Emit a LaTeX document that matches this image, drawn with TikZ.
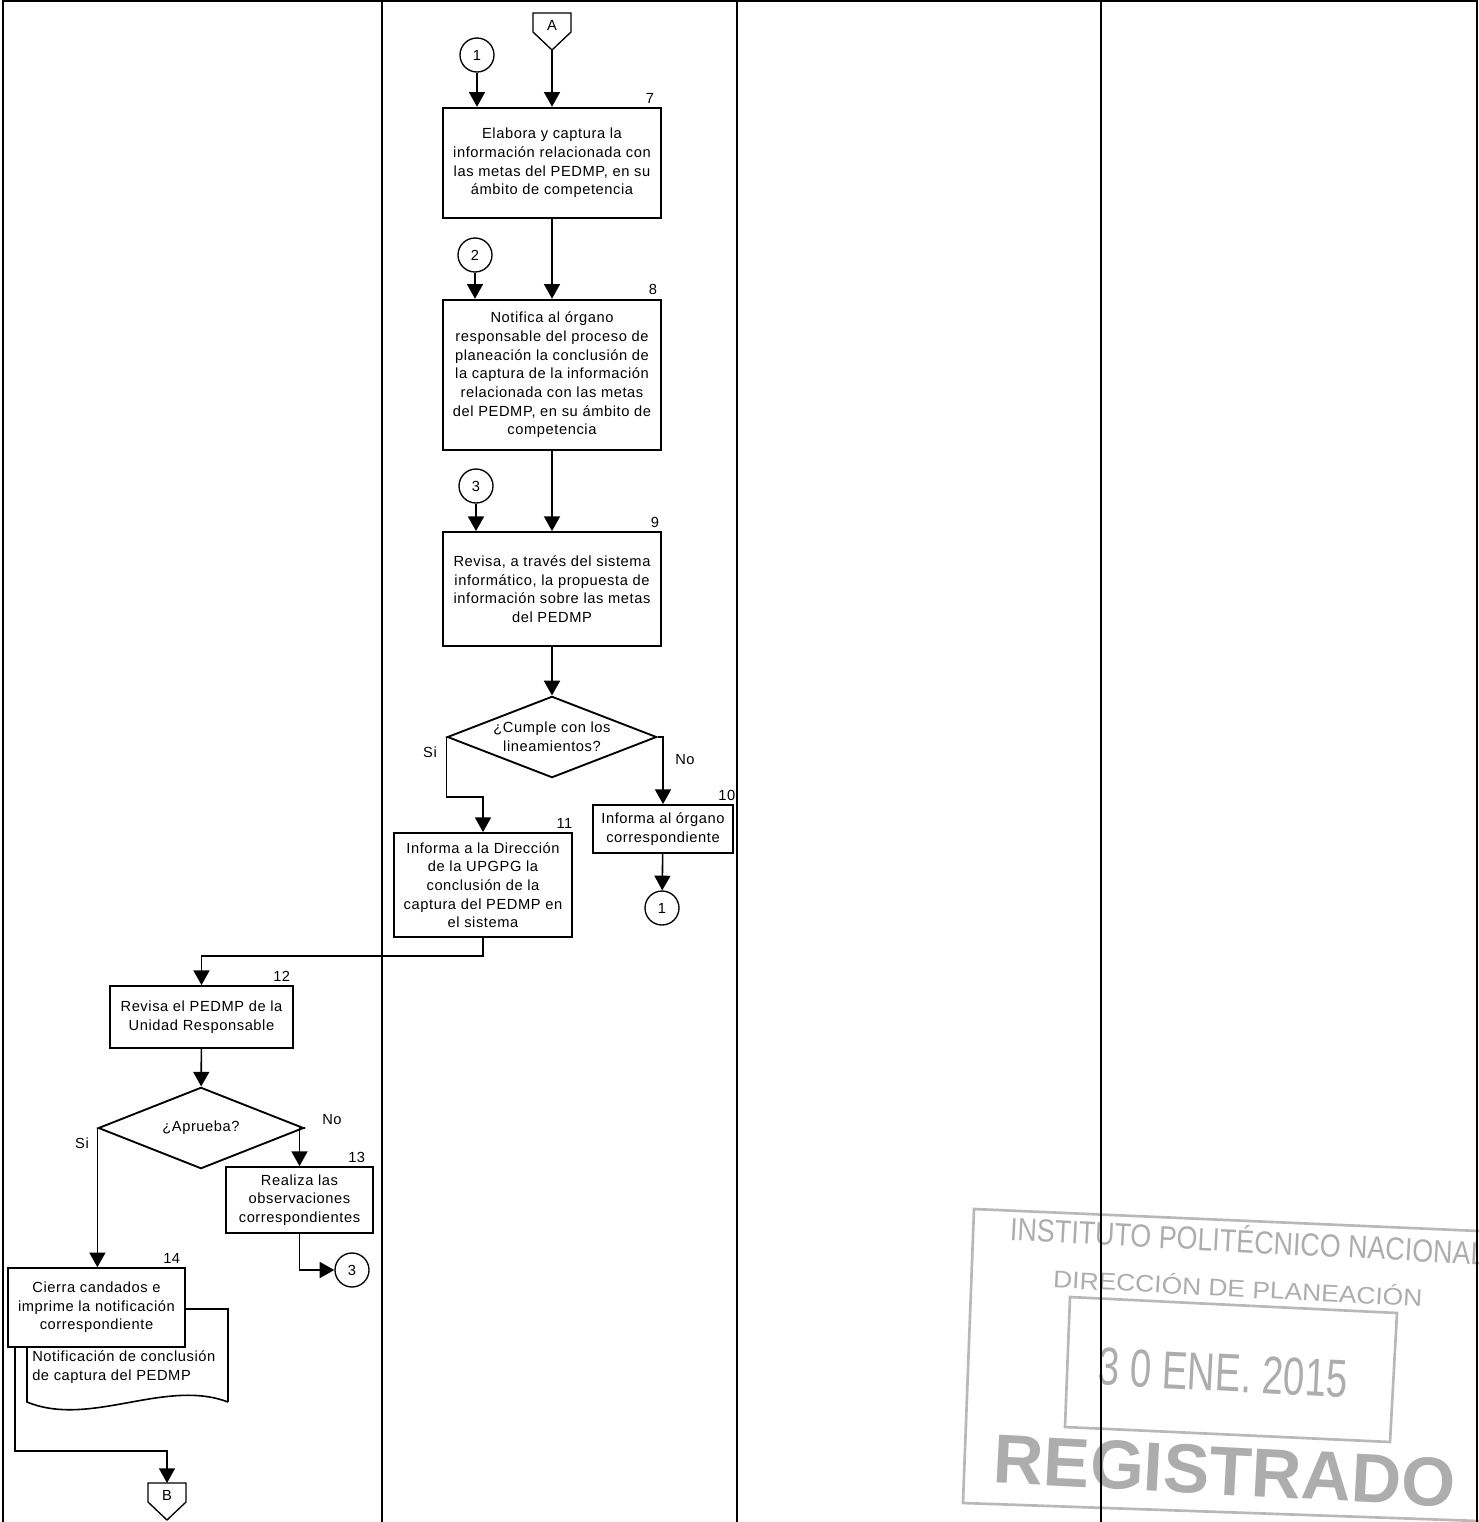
\documentclass[tikz,border=0pt]{standalone}
\usepackage{fontspec}
\setmainfont[LetterSpace=4]{Liberation Sans}
\newfontfamily\stampfont{Liberation Sans}
\usepackage{tikz}
\usetikzlibrary{shapes.geometric, arrows.meta, positioning, calc}

\begin{document}
\begin{tikzpicture}[x=0.75pt,y=0.75pt,yscale=-1,xscale=1,
  font=\fontsize{11}{14}\selectfont,
  proc/.style={draw, line width=1.4pt, fill=white, align=center, inner sep=1pt},
  decis/.style={draw, diamond, line width=1.4pt, fill=white, aspect=2.6, align=center, inner sep=0.5pt},
  conn/.style={draw, circle, line width=1pt, fill=white, minimum size=25.5pt, inner sep=0pt},
  flowarr/.style={line width=1.2pt, -{Triangle[length=11pt,width=12pt]}},
  numtag/.style={anchor=south east, inner sep=1pt},
  lane/.style={line width=1.5pt},
  stampink/.style={black!28, line width=2pt},
  stamptxt/.style={black!32, rotate=-3, inner sep=0pt}
]
\clip (0,0) rectangle (1479,1522);

%Stamp
\draw[stampink] (1479,1231) -- (974,1209) -- (963,1503) -- (1479,1521);
\draw[stampink] (1070,1297) -- (1397,1313) -- (1390,1442) -- (1065,1427) -- cycle;
\node[stamptxt, xscale=0.84] (st1) at (1248,1239) {\stampfont\fontsize{24}{24}\selectfont INSTITUTO POLITÉCNICO NACIONAL};
\node[stamptxt, xscale=1.1] (st2) at (1238,1287) {\stampfont\fontsize{18}{18}\selectfont DIRECCIÓN DE PLANEACIÓN};
\node[stamptxt, xscale=0.72] (st3) at (1223,1373) {\stampfont\fontsize{40}{40}\selectfont 3 0 ENE. 2015};
\node[stamptxt] (st4) at (1225,1471) {\stampfont\bfseries\fontsize{52}{52}\selectfont REGISTRADO};

%Lanes
\draw[lane] (2,1) -- (1478,1);
\draw[lane] (3,0) -- (3,1522);
\draw[lane] (382,0) -- (382,1522);
\draw[lane] (737,0) -- (737,1522);
\draw[lane] (1101,0) -- (1101,1522);
\draw[lane] (1477,0) -- (1477,1522);

%Off-page connector A
\draw[line width=1pt] (533,13) -- (571,13) -- (571,32) -- (552,50) -- (533,32) -- cycle;
\node[inner sep=0pt] (pa) at (552,25) {A};
\coordinate (pa-tip) at (552,50);

%Connectors
\node[conn] (c1) at (477,55) {1};
\node[conn] (c2) at (475,255) {2};
\node[conn] (c3) at (476,486) {3};
\node[conn] (c1b) at (662,908) {1};
\node[conn] (c3b) at (352,1270) {3};

%Shape: Rectangle 7
\node[proc, minimum width=163pt, minimum height=83pt] (b7) at (552,163) {Elabora y captura la\\información relacionada con\\las metas del PEDMP, en su\\ámbito de competencia};
\node[numtag] (n7) at ($(b7.north east)+(-6,-2)$) {7};

%Shape: Rectangle 8
\node[proc, minimum width=163pt, minimum height=113pt] (b8) at (552,375) {Notifica al órgano\\responsable del proceso de\\planeación la conclusión de\\la captura de la información\\relacionada con las metas\\del PEDMP, en su ámbito de\\competencia};
\node[numtag] (n8) at ($(b8.north east)+(-3,-2)$) {8};

%Shape: Rectangle 9
\node[proc, minimum width=163pt, minimum height=85.5pt] (b9) at (552,589) {Revisa, a través del sistema\\informático, la propuesta de\\información sobre las metas\\del PEDMP};
\node[numtag] (n9) at ($(b9.north east)+(-1,-2)$) {9};

%Shape: Diamond
\node[decis, minimum width=157pt, minimum height=61pt] (d1) at (552,737) {¿Cumple con los\\lineamientos?};
\node (si1) at (430,752) {Si};
\node (no1) at (685,760) {No};

%Shape: Rectangle 10
\node[proc, minimum width=105pt, minimum height=36pt] (b10) at (663,829) {Informa al órgano\\correspondiente};
\node[numtag] (n10) at ($(b10.north east)+(3,-2)$) {10};

%Shape: Rectangle 11
\node[proc, minimum width=133.5pt, minimum height=78pt] (b11) at (483,885) {Informa a la Dirección\\de la UPGPG la\\conclusión de la\\captura del PEDMP en\\el sistema};
\node[numtag] (n11) at ($(b11.north east)+(1,-2)$) {11};

%Shape: Rectangle 12
\node[proc, minimum width=137pt, minimum height=46.5pt] (b12) at (201.5,1017) {Revisa el PEDMP de la\\Unidad Responsable};
\node[numtag] (n12) at ($(b12.north east)+(-2,-2)$) {12};

%Shape: Diamond
\node[decis, minimum width=154pt, minimum height=61pt] (d2) at (201,1128) {¿Aprueba?};
\node (no2) at (332,1120) {No};
\node (si2) at (82,1143) {Si};

%Shape: Rectangle 13
\node[proc, minimum width=110pt, minimum height=49.5pt] (b13) at (299.5,1200) {Realiza las\\observaciones\\correspondientes};
\node[numtag] (n13) at ($(b13.north east)+(-7,-2)$) {13};

%Shape: Document
\draw[line width=1.2pt, fill=white] (228,1402) -- (228,1309) -- (27,1309) -- (27,1402) .. controls (90,1428) and (165,1378) .. (228,1402);
\node[anchor=west, align=left, inner sep=0pt] (doc) at (32,1367) {Notificación de conclusión\\de captura del PEDMP};

%Shape: Rectangle 14
\node[proc, minimum width=132.5pt, minimum height=59pt] (b14) at (96.5,1307.5) {Cierra candados e\\imprime la notificación\\correspondiente};
\node[numtag] (n14) at ($(b14.north east)+(-4,-2)$) {14};

%Off-page connector B
\draw[line width=1pt] (148,1483) -- (186,1483) -- (186,1502) -- (167,1520) -- (148,1502) -- cycle;
\node[inner sep=0pt] (pb) at (167,1495) {B};
\coordinate (pb-top) at (167,1483);

%Straight Lines
\draw[flowarr] (pa-tip) -- (b7.north);
\draw[flowarr] (c1) -- (c1 |- b7.north);
\draw[flowarr] (b7) -- (b8);
\draw[flowarr] (c2) -- (c2 |- b8.north);
\draw[flowarr] (b8) -- (b9);
\draw[flowarr] (c3) -- (c3 |- b9.north);
\draw[flowarr] (b9) -- (d1);
\draw[flowarr] (d1.west) -- ++(0,60) -| (b11.north);
\draw[flowarr] (d1.east) -| (b10.north);
\draw[flowarr] (b10) -- (c1b);
\draw[flowarr] (b11.south) -- ++(0,18) -| (b12.north);
\draw[flowarr] (b12) -- (d2);
\draw[flowarr] (d2.east) -| (b13.north);
\draw[flowarr] (b13.south) |- (c3b.west);
\draw[flowarr] (d2.west) -- (d2.west |- b14.north);
\draw[flowarr] ($(b14.south west)+(8,0)$) -- ++(0,103) -| (pb-top);

\end{tikzpicture}
\end{document}
